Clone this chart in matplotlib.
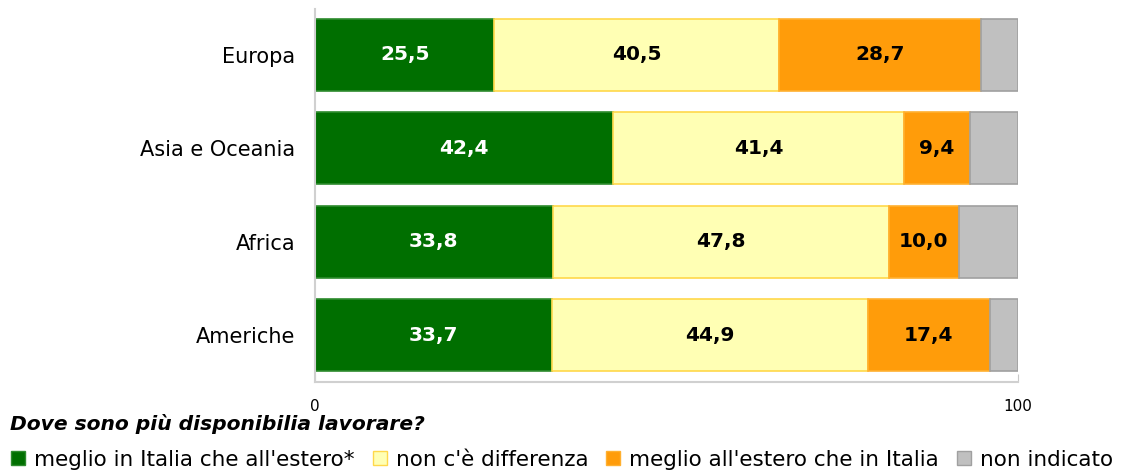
import numpy as np
import matplotlib.pyplot as plt
from matplotlib.lines import Line2D

regioni = ["Europa", "Asia e Oceania", "Africa", "Americhe"]
meglio_italia = [25.5, 42.4, 33.8, 33.7]
nessuna_diff = [40.5, 41.4, 47.8, 44.9]
meglio_estero = [28.7, 9.4, 10.0, 17.4]
non_indicato = [5.3, 6.8, 8.4, 4.0]

serie = [meglio_italia, nessuna_diff, meglio_estero, non_indicato]
etichette = ["meglio in Italia che all'estero*", "non c'è differenza",
             "meglio all'estero che in Italia", "non indicato"]
colori = ["#006f00", "#ffffb4", "#ff9c0a", "#c0c0c0"]
bordi = ["#2e8b2e", "#ffd84a", "#ffb030", "#a0a0a0"]
colori_testo = ["white", "black", "black", None]

fig = plt.figure(figsize=(11.29, 4.70), dpi=100)
ax = fig.add_axes([315 / 1129, 1 - 382 / 470, 703 / 1129, 373 / 470])

y = np.arange(len(regioni))[::-1]
left = np.zeros(len(regioni))
for vals, col, bc, tc in zip(serie, colori, bordi, colori_testo):
    vals = np.array(vals)
    ax.barh(y, vals, left=left, height=0.77, color=col, edgecolor=bc, linewidth=1.2)
    if tc is not None:
        for yi, l, v in zip(y, left, vals):
            ax.text(l + v / 2, yi, f"{v:.1f}".replace(".", ","), ha="center", va="center",
                    color=tc, fontsize=14.5, fontweight="bold")
    left += vals

ax.set_xlim(0, 100)
ax.set_ylim(-0.502, 3.49)
ax.set_yticks(y)
ax.set_yticklabels(regioni, fontsize=15)
ax.tick_params(axis="y", length=0, pad=14)
ax.set_xticks([0, 100])
ax.tick_params(axis="x", direction="in", length=6, color="#c8c8c8", labelsize=11, pad=12)
for s in ["top", "right"]:
    ax.spines[s].set_visible(False)
for s in ["left", "bottom"]:
    ax.spines[s].set_color("#d0d0d0")
    ax.spines[s].set_linewidth(1.5)

fig.text(10 / 1129, 1 - 424 / 470, "Dove sono più disponibilia lavorare?", fontsize=14.6,
         fontweight="bold", style="italic", va="center")

handles = [Line2D([], [], marker="s", linestyle="none", markersize=10,
                  markerfacecolor=c, markeredgecolor=b) for c, b in zip(colori, bordi)]
fig.legend(handles, etichette, loc="center left", bbox_to_anchor=(0.0, 1 - 460 / 470),
           ncol=4, frameon=False, fontsize=15.5, handletextpad=0.3, columnspacing=0.7,
           borderaxespad=0, handlelength=0.9)

fig.savefig("out.png", dpi=100)
